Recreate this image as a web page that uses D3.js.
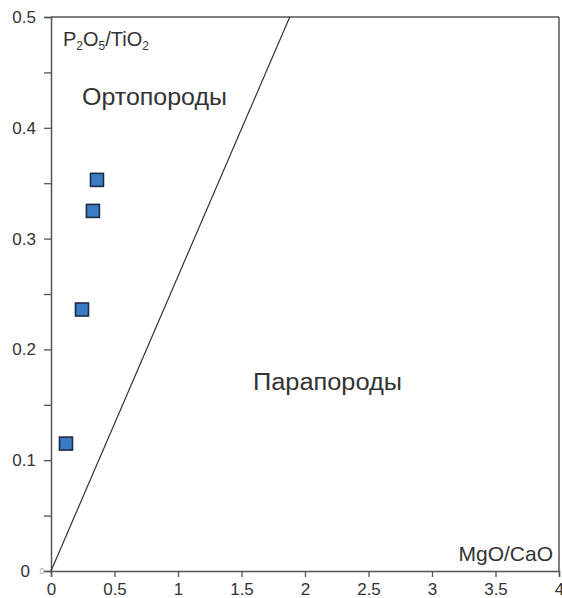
<!DOCTYPE html>
<html><head><meta charset="utf-8">
<script src="https://cdn.jsdelivr.net/npm/d3@7"></script>
<style>body{margin:0;background:#fff}svg{display:block}text{font-family:"Liberation Sans",Arial,sans-serif}</style>
</head><body><svg id="c" width="562" height="598"></svg>
<script>
const xTicks = [0, 0.5, 1, 1.5, 2, 2.5, 3, 3.5, 4];
const yTicks = [0, 0.05, 0.1, 0.15, 0.2, 0.25, 0.3, 0.35, 0.4, 0.45, 0.5];
const yLabels = [0.1, 0.2, 0.3, 0.4, 0.5];
const mgoCao = [0.362, 0.33, 0.244, 0.118];
const p2o5TiO2 = [0.353, 0.325, 0.236, 0.115];
const boundaryX = [0, 1.88];
const boundaryY = [0, 0.5];

const svg = d3.select("#c");
const x = d3.scaleLinear().domain([0, 4]).range([51, 559]);
const y = d3.scaleLinear().domain([0, 0.5]).range([571, 17]);
const axisCol = "#555";

// frame
svg.append("line").attr("x1", x(0)).attr("x2", x(4)).attr("y1", y(0.5)).attr("y2", y(0.5)).attr("stroke", axisCol).attr("stroke-width", 1.5);
svg.append("line").attr("x1", x(4)).attr("x2", x(4)).attr("y1", y(0.5)).attr("y2", y(0)).attr("stroke", axisCol).attr("stroke-width", 1.5);

const xa = svg.append("g").attr("transform", `translate(0,${y(0)})`)
  .call(d3.axisBottom(x).tickValues(xTicks).tickSize(6).tickPadding(3).tickFormat(d => String(d)));
const ya = svg.append("g").attr("transform", `translate(${x(0)},0)`)
  .call(d3.axisLeft(y).tickValues(yTicks).tickSize(7).tickPadding(8)
    .tickFormat(d => yLabels.some(v => Math.abs(v - d) < 1e-9) ? String(+d.toFixed(2)) : (d === 0 ? "0" : "")));
[xa, ya].forEach(g => {
  g.select(".domain").attr("stroke", axisCol).attr("stroke-width", 1.5);
  g.selectAll(".tick line").attr("stroke", axisCol).attr("stroke-width", 1.3);
  g.selectAll(".tick text").attr("fill", "#333").style("font-size", "17px").style("font-family", '"Liberation Sans",Arial,sans-serif');
});
xa.selectAll(".tick text").attr("dy", "0.9em");
ya.select(".tick text").attr("dx", "-6px");
ya.append("text").attr("x", -9).attr("y", y(0)).attr("dy", "0.32em").attr("fill", "#aaa").attr("text-anchor", "middle").style("font-size", "9px").text("0");

// boundary line
svg.append("line").attr("x1", x(boundaryX[0])).attr("y1", y(boundaryY[0])).attr("x2", x(boundaryX[1])).attr("y2", y(boundaryY[1]))
  .attr("stroke", "#333").attr("stroke-width", 1.2);

// points
svg.selectAll("rect.pt").data(mgoCao.map((v, i) => [v, p2o5TiO2[i]])).enter().append("rect")
  .attr("class", "pt").attr("x", d => x(d[0]) - 6.5).attr("y", d => y(d[1]) - 6.5).attr("width", 13).attr("height", 13)
  .attr("fill", "#3b7cc4").attr("stroke", "#1e2d44").attr("stroke-width", 1.6);

// labels
const yl = svg.append("text").attr("x", 63).attr("y", 46).attr("fill", "#333").style("font-size", "20px");
yl.append("tspan").text("P");
yl.append("tspan").attr("dy", 4).style("font-size", "12px").text("2");
yl.append("tspan").attr("dy", -4).text("O");
yl.append("tspan").attr("dy", 4).style("font-size", "12px").text("5");
yl.append("tspan").attr("dy", -4).text("/TiO");
yl.append("tspan").attr("dy", 4).style("font-size", "12px").text("2");

svg.append("text").attr("x", 553).attr("y", 561).attr("text-anchor", "end").attr("fill", "#333").style("font-size", "21px").text("MgO/CaO");
svg.append("text").attr("x", 82).attr("y", 105).attr("fill", "#333").style("font-size", "23px").attr("textLength", 145).attr("lengthAdjust", "spacingAndGlyphs").text("Ортопороды");
svg.append("text").attr("x", 253).attr("y", 390).attr("fill", "#333").style("font-size", "23px").attr("textLength", 149).attr("lengthAdjust", "spacingAndGlyphs").text("Парапороды");
</script></body></html>
